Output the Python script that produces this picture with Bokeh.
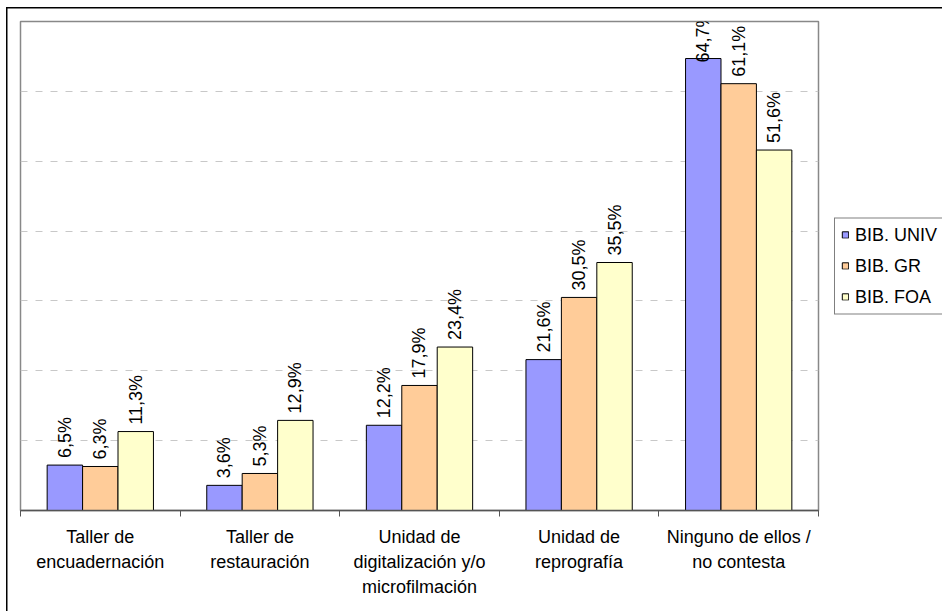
from bokeh.plotting import figure
from bokeh.models import (Range1d, FixedTicker, ColumnDataSource, LabelSet,
                          Legend, LegendItem)
from bokeh.core.properties import value
from bokeh.embed import file_html
from bokeh.resources import INLINE

categories = ["Taller de\nencuadernación", "Taller de\nrestauración",
              "Unidad de\ndigitalización y/o\nmicrofilmación",
              "Unidad de\nreprografía", "Ninguno de ellos /\nno contesta"]
series_names = ["BIB. UNIV", "BIB. GR", "BIB. FOA"]
univ = [6.5, 3.6, 12.2, 21.6, 64.7]
gr = [6.3, 5.3, 17.9, 30.5, 61.1]
foa = [11.3, 12.9, 23.4, 35.5, 51.6]
colors = ["#9999FF", "#FFCC99", "#FFFFCC"]
Y_MAX = 70
grid_ticks = [10, 20, 30, 40, 50, 60]

FONT = "Liberation Sans"
FRAME_H = 489
BAR_W = 0.222

p = figure(width=942, height=611, frame_width=798, frame_height=FRAME_H,
           output_backend="svg", toolbar_location=None,
           x_range=Range1d(0, len(categories)), y_range=Range1d(0, Y_MAX),
           min_border_left=20, min_border_top=21, min_border_right=124,
           min_border_bottom=101, background_fill_color="white",
           border_fill_alpha=0)
# outer chart-area border (left and top edges visible), drawn behind the canvas
p.styles = {
    "background": ("linear-gradient(#000,#000) 6px 7px / 1.5px 100% no-repeat, "
                   "linear-gradient(#000,#000) 6px 7px / 100% 1.5px no-repeat, "
                   "#ffffff"),
}

p.outline_line_color = "#888888"
p.outline_line_width = 1.5
p.yaxis.visible = False
p.xgrid.visible = False
p.ygrid.ticker = FixedTicker(ticks=grid_ticks)
p.ygrid.grid_line_color = "#c8c8c8"
p.ygrid.grid_line_dash = "7 8"

centers = [i + 0.5 for i in range(len(categories))]
ax = p.xaxis[0]
ax.ticker = FixedTicker(ticks=centers, minor_ticks=list(range(len(categories) + 1)))
ax.major_label_overrides = {c: lab for c, lab in zip(centers, categories)}
ax.major_tick_out = 0
ax.major_tick_in = 0
ax.minor_tick_out = 6
ax.minor_tick_in = 0
ax.minor_tick_line_color = "#555555"
ax.axis_line_color = "#555555"
ax.axis_line_width = 1.5
ax.major_label_standoff = 10
ax.major_label_text_font = FONT
ax.major_label_text_font_size = "18px"
ax.major_label_text_color = "#000000"
ax.major_label_text_line_height = 1.25

ppu = FRAME_H / Y_MAX
items = []
for k, (name, vals, col) in enumerate(zip(series_names, [univ, gr, foa], colors)):
    off = (k - 1) * BAR_W
    xs = [c + off for c in centers]
    labels = [f"{v:.1f}".replace(".", ",") + "%" for v in vals]
    # float labels 7px above the bar, but keep them inside the chart's top edge
    offs = [min(7, (Y_MAX - v) * ppu + 11 - 52) for v in vals]
    src = ColumnDataSource(dict(x=xs, top=vals, lab=labels, off=offs))
    r = p.vbar(x="x", top="top", width=BAR_W, source=src, fill_color=col,
               line_color="#000000", line_width=1)
    items.append(LegendItem(label=name, renderers=[r]))
    ls = LabelSet(x="x", y="top", text="lab", source=src, angle=1.5708,
                  y_offset="off", text_align="left", text_baseline="middle",
                  text_font=value(FONT), text_font_size="18px",
                  text_color="#000000")
    p.add_layout(ls)

lg = Legend(items=items, location="center_left")
lg.border_line_color = "#000000"
lg.border_line_width = 1
lg.background_fill_color = "white"
lg.background_fill_alpha = 1
lg.label_text_font = FONT
lg.label_text_font_size = "18px"
lg.label_text_color = "#000000"
lg.glyph_width = 8
lg.glyph_height = 8
lg.label_height = 20
lg.label_width = 92
lg.label_standoff = 6
lg.spacing = 10
lg.padding = 6
lg.margin = 16
p.add_layout(lg, "right")

open("out.html", "w").write(file_html(p, INLINE))
